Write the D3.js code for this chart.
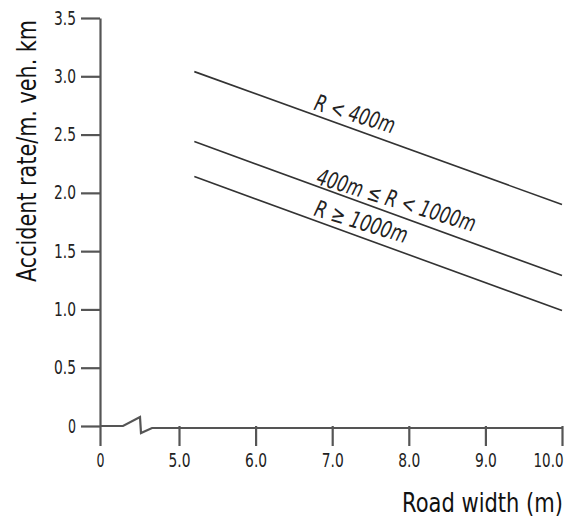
<!DOCTYPE html>
<html>
<head>
<meta charset="utf-8">
<script src="https://cdn.jsdelivr.net/npm/d3@7"></script>
<style>
  body { margin: 0; background: #fff; }
  text { font-family: 'DejaVu Sans', sans-serif; }
</style>
</head>
<body>
<div id="chart"></div>
<script>
const xTicks = [0, 5, 6, 7, 8, 9, 10];
const xTickLabels = ['0', '5.0', '6.0', '7.0', '8.0', '9.0', '10.0'];
const yTicks = [0, 0.5, 1.0, 1.5, 2.0, 2.5, 3.0, 3.5];
const yTickLabels = ['0', '0.5', '1.0', '1.5', '2.0', '2.5', '3.0', '3.5'];

const seriesNames = ['R < 400m', '400m \u2264 R < 1000m', 'R \u2265 1000m'];
const roadWidths = [5.2, 10.0];
const rateLow = [3.04, 1.9];
const rateMid = [2.44, 1.29];
const rateHigh = [2.14, 0.99];
const rates = [rateLow, rateMid, rateHigh];

const width = 565;
const height = 523;

const svg = d3
  .select('#chart')
  .append('svg')
  .attr('width', width)
  .attr('height', height);

// broken x axis: 0 sits just left of the break, 5..10 spread out
const xScale = d3.scaleLinear().domain([0, 5, 10]).range([100, 179, 562]);
const yScale = d3.scaleLinear().domain([0, 3.5]).range([426, 18]);

const axisColor = '#555';

// narrow look for the tick numbers: squeeze each label to its width
const tickWidth = (s) => s.replace(/\./g, '').length * 8 + (s.includes('.') ? 6 : 0);

// y axis
const yAxis = svg
  .append('g')
  .attr('transform', `translate(${xScale(0)},0)`)
  .call(
    d3
      .axisLeft(yScale)
      .tickValues(yTicks)
      .tickFormat((d, i) => yTickLabels[i])
      .tickSize(19)
      .tickSizeOuter(0)
      .tickPadding(5)
  );

// x axis (domain drawn by hand because of the break)
const xAxis = svg
  .append('g')
  .attr('transform', `translate(0,${yScale(0)})`)
  .call(
    d3
      .axisBottom(xScale)
      .tickValues(xTicks)
      .tickFormat((d, i) => xTickLabels[i])
      .tickSize(20)
      .tickSizeOuter(0)
      .tickPadding(8)
  );
xAxis.select('.domain').remove();

[yAxis, xAxis].forEach((g) => {
  g.select('.domain').attr('stroke', axisColor).attr('stroke-width', 2.2);
  g.selectAll('.tick line').attr('stroke', axisColor).attr('stroke-width', 2.2);
  g.selectAll('.tick text')
    .attr('textLength', function () {
      return tickWidth(this.textContent);
    })
    .attr('lengthAdjust', 'spacingAndGlyphs')
    .style('font-size', '19px')
    .style('fill', '#222');
});
// last label is pulled in so it stays on the page
xAxis
  .selectAll('.tick text')
  .filter((d) => d === 10)
  .attr('text-anchor', 'end')
  .attr('x', 1);

const y0 = yScale(0);
const x0 = xScale(0);
svg
  .append('path')
  .attr(
    'd',
    d3.line()([
      [x0, y0],
      [x0 + 23, y0],
      [x0 + 40, y0 - 9],
      [x0 + 41, y0 + 7],
      [x0 + 52, y0 + 2],
      [xScale(10), y0 + 2],
    ])
  )
  .attr('fill', 'none')
  .attr('stroke', axisColor)
  .attr('stroke-width', 2.2);

// lines
const line = d3
  .line()
  .x((d) => xScale(d[0]))
  .y((d) => yScale(d[1]));

svg
  .selectAll('.rate-line')
  .data(rates)
  .enter()
  .append('path')
  .attr('class', 'rate-line')
  .attr('d', (r) => line(roadWidths.map((w, i) => [w, r[i]])))
  .attr('fill', 'none')
  .attr('stroke', '#333')
  .attr('stroke-width', 1.6);

// labels along the lines
const labelX = [6.75, 6.78, 6.75];
const labelDy = [-5, -2, -4.5];
const labelLen = [83, 165, 96];
svg
  .selectAll('.rate-label')
  .data(seriesNames)
  .enter()
  .append('text')
  .attr('class', 'rate-label')
  .attr('transform', (d, i) => {
    const v = d3.scaleLinear().domain(roadWidths).range(rates[i])(labelX[i]);
    return `translate(${xScale(labelX[i])},${yScale(v) + labelDy[i]}) rotate(17)`;
  })
  .attr('textLength', (d, i) => labelLen[i])
  .attr('lengthAdjust', 'spacingAndGlyphs')
  .style('font-size', '23px')
  .style('font-style', 'italic')
  .style('fill', '#222')
  .text((d) => d);

// axis titles
svg
  .append('text')
  .attr('x', 563)
  .attr('y', 512)
  .attr('text-anchor', 'end')
  .attr('textLength', 161)
  .attr('lengthAdjust', 'spacingAndGlyphs')
  .style('font-size', '26px')
  .style('fill', '#111')
  .text('Road width (m)');

svg
  .append('text')
  .attr('transform', 'translate(36,151) rotate(-90)')
  .attr('text-anchor', 'middle')
  .attr('textLength', 262)
  .attr('lengthAdjust', 'spacingAndGlyphs')
  .style('font-size', '26px')
  .style('fill', '#111')
  .text('Accident rate/m. veh. km');
</script>
</body>
</html>
